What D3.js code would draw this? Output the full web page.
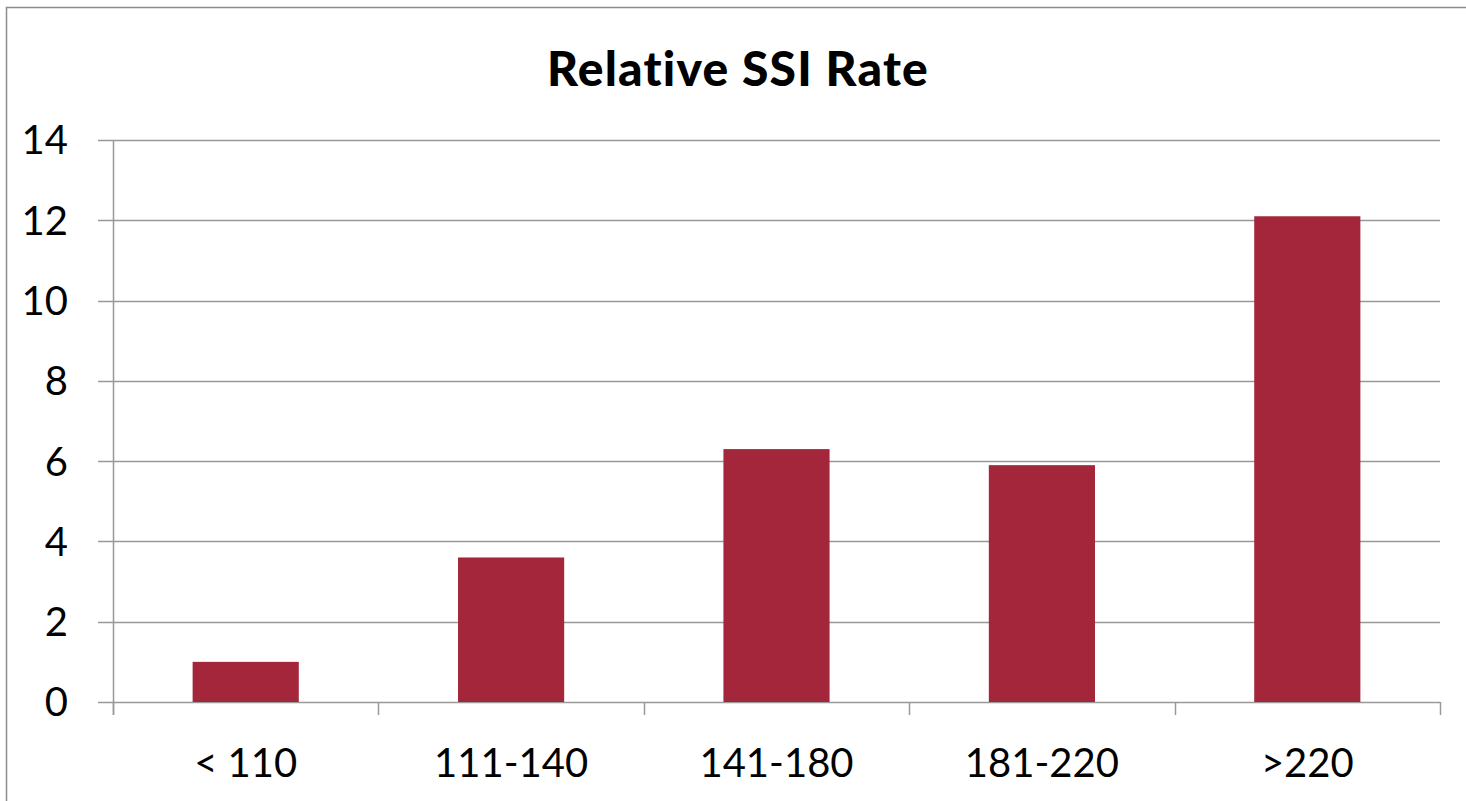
<!DOCTYPE html>
<html>
<head>
<meta charset="utf-8">
<script src="https://cdn.jsdelivr.net/npm/d3@7"></script>
<style>
  html, body { margin: 0; padding: 0; background: #fff; }
  svg { display: block; }
  text { font-family: Lato, "Open Sans", sans-serif; fill: #000; }
</style>
</head>
<body>
<svg id="chart" width="1466" height="801"></svg>
<script>
// Relative SSI rate by glucose range
const categories = ["< 110", "111-140", "141-180", "181-220", ">220"];
const rates = [1.0, 3.6, 6.3, 5.9, 12.1];
const yTicks = [0, 2, 4, 6, 8, 10, 12, 14];
const chartTitle = "Relative SSI Rate";

const svg = d3.select("#chart");
const W = 1466, H = 801;

// Outer chart frame
svg.append("rect")
  .attr("x", 6.5).attr("y", 7.5)
  .attr("width", W + 20).attr("height", H + 20)
  .attr("fill", "#fff")
  .attr("stroke", "#8c8c8c")
  .attr("stroke-width", 1.5);

const plot = { left: 113, right: 1440, top: 140, bottom: 702 };

const x = d3.scaleBand()
  .domain(categories)
  .range([plot.left, plot.right])
  .paddingInner(0)
  .paddingOuter(0);

const y = d3.scaleLinear()
  .domain([0, 14])
  .range([plot.bottom, plot.top]);

const gridColor = "#999999";

// Horizontal gridlines, extending left past the axis as tick marks
svg.append("g")
  .selectAll("line")
  .data(yTicks)
  .join("line")
  .attr("x1", plot.left - 15)
  .attr("x2", plot.right)
  .attr("y1", d => Math.round(y(d)) + 0.5)
  .attr("y2", d => Math.round(y(d)) + 0.5)
  .attr("stroke", gridColor)
  .attr("stroke-width", 1.5);

// Y axis line
svg.append("line")
  .attr("x1", plot.left + 0.5).attr("x2", plot.left + 0.5)
  .attr("y1", plot.top).attr("y2", plot.bottom + 13)
  .attr("stroke", gridColor)
  .attr("stroke-width", 1.5);

// Category boundary ticks below the x axis
const boundaries = categories.map(c => x(c)).concat([plot.right]);
svg.append("g")
  .selectAll("line")
  .data(boundaries)
  .join("line")
  .attr("x1", d => Math.round(d) + 0.5)
  .attr("x2", d => Math.round(d) + 0.5)
  .attr("y1", plot.bottom)
  .attr("y2", plot.bottom + 13)
  .attr("stroke", gridColor)
  .attr("stroke-width", 1.5);

// Bars
const barW = x.bandwidth() * 0.4;
svg.append("g")
  .selectAll("rect")
  .data(rates)
  .join("rect")
  .attr("x", (d, i) => x(categories[i]) + (x.bandwidth() - barW) / 2)
  .attr("y", d => y(d))
  .attr("width", barW)
  .attr("height", d => y(0) - y(d))
  .attr("fill", "#A3263A");

// Y tick labels
svg.append("g")
  .selectAll("text")
  .data(yTicks)
  .join("text")
  .attr("x", 68)
  .attr("y", d => y(d))
  .attr("dy", "0.36em")
  .attr("text-anchor", "end")
  .attr("font-size", 40)
  .text(d => d);

// Title
svg.append("text")
  .attr("x", 738)
  .attr("y", 86)
  .attr("text-anchor", "middle")
  .attr("font-size", 48)
  .attr("font-weight", 900)
  .attr("letter-spacing", 1.2)
  .text(chartTitle);

// Category labels
svg.append("g")
  .selectAll("text")
  .data(categories)
  .join("text")
  .attr("x", d => x(d) + x.bandwidth() / 2)
  .attr("y", 777)
  .attr("text-anchor", "middle")
  .attr("font-size", 40)
  .text(d => d);
</script>
</body>
</html>
